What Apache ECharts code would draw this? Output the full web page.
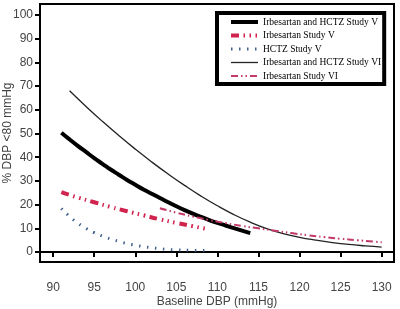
<!DOCTYPE html>
<html>
<head>
<meta charset="utf-8">
<script src="https://cdn.jsdelivr.net/npm/echarts@6/dist/echarts.min.js"></script>
<style>
  html, body { margin: 0; padding: 0; background: #fff; }
  #chart { width: 400px; height: 309px; }
</style>
</head>
<body>
<div id="chart"></div>
<script>
// tick values
var xTicks = [90, 95, 100, 105, 110, 115, 120, 125, 130];
var yTicks = [0, 10, 20, 30, 40, 50, 60, 70, 80, 90, 100];

// Irbesartan and HCTZ Study V
var combVX = [91, 92, 93, 94, 95, 96, 97, 98, 99, 100, 101, 102, 103, 104, 105, 106, 107, 108, 109, 110, 111, 112, 113, 114];
var combVY = [50.3, 47.5, 44.8, 42.2, 39.6, 37.2, 34.8, 32.6, 30.4, 28.4, 26.4, 24.6, 22.8, 21, 19.3, 17.7, 16.2, 14.8, 13.5, 12.3, 11.2, 10.1, 9, 8];

// Irbesartan Study V
var irbVX = [91, 93, 95, 97, 99, 101, 103, 105, 107, 109];
var irbVY = [25.3, 23, 21, 19, 17.2, 15.5, 13.8, 12.3, 10.9, 9.5];

// HCTZ Study V
var hctzVX = [91, 92, 93, 94, 95, 96, 97, 98, 99, 100, 101, 102, 103, 104, 105, 107, 109];
var hctzVY = [18.4, 15, 12.2, 10, 8.2, 6.7, 5.5, 4.5, 3.6, 2.9, 2.3, 1.8, 1.4, 1.1, 0.9, 0.7, 0.6];

// Irbesartan and HCTZ Study VI
var combVIX = [92, 94, 96, 98, 100, 102, 104, 106, 108, 110, 112, 114, 116, 118, 120, 122, 124, 126, 128, 130];
var combVIY = [68, 61.4, 55.1, 49.1, 43.4, 38, 32.9, 28.1, 23.6, 19.5, 15.8, 12.6, 9.9, 7.8, 6.2, 5, 4, 3.2, 2.6, 2.1];

// Irbesartan Study VI
var irbVIX = [103, 105, 107, 109, 111, 113, 115, 117, 119, 121, 123, 125, 127, 129, 130];
var irbVIY = [18.5, 16.6, 15, 13.5, 12.2, 11, 10, 9, 8, 7.1, 6.3, 5.6, 5, 4.4, 4.1];

function pairs(xs, ys) {
  return xs.map(function (x, i) { return [x, ys[i]]; });
}

// line looks, shared by the series and their legend icons
var styleCombV = { color: '#000', width: 4 };
var styleIrbV = { color: '#d0244e', width: 4, type: [8, 4.5, 1.5, 4.5, 1.5, 4.5, 1.5, 4.5] };
var styleHctzV = { color: '#3d5f8a', width: 3, type: [1.5, 6.5] };
var styleCombVI = { color: '#222', width: 1.3 };
var styleIrbVI = { color: '#c23b66', width: 2, type: [7, 3, 1.5, 3, 1.5, 3] };

var chart = echarts.init(document.getElementById('chart'), null, { renderer: 'canvas' });

var axisFont = { fontFamily: 'Liberation Sans', fontSize: 12, color: '#444' };

var option = {
  backgroundColor: '#fff',
  animation: false,
  grid: {
    left: 40, right: 6, top: 4, bottom: 47,
    outerBoundsMode: 'none',
    containLabel: false,
    show: true,
    borderColor: '#000',
    borderWidth: 2,
    backgroundColor: 'transparent'
  },
  legend: {
    orient: 'vertical',
    left: 217,
    top: 13,
    padding: [4, 3, 3, 12],
    borderColor: '#000',
    borderWidth: 4,
    backgroundColor: '#fff',
    itemWidth: 27,
    itemHeight: 8,
    itemGap: 3.5,
    itemStyle: { opacity: 0 },
    textStyle: { fontFamily: 'Liberation Serif', fontSize: 9.5, color: '#000' },
    data: [
      { name: 'Irbesartan and HCTZ Study V', lineStyle: styleCombV },
      { name: 'Irbesartan Study V', lineStyle: styleIrbV },
      { name: 'HCTZ Study V', lineStyle: styleHctzV },
      { name: 'Irbesartan and HCTZ Study VI', lineStyle: styleCombVI },
      { name: 'Irbesartan Study VI', lineStyle: styleIrbVI }
    ]
  },
  xAxis: {
    type: 'value',
    min: 88.4,
    max: 131.5,
    name: 'Baseline DBP (mmHg)',
    nameLocation: 'middle',
    nameGap: 34,
    nameMoveOverlap: false,
    nameTextStyle: axisFont,
    axisLine: { show: true, lineStyle: { color: '#000', width: 2 } },
    axisTick: { show: true, customValues: xTicks, length: 5, lineStyle: { color: '#000', width: 2 } },
    axisLabel: { customValues: xTicks, margin: 20, fontFamily: 'Liberation Sans', fontSize: 12, color: '#444' },
    splitLine: { show: false }
  },
  yAxis: {
    type: 'value',
    min: -4.2,
    max: 104.6,
    name: '% DBP <80 mmHg',
    nameLocation: 'middle',
    nameGap: 26,
    nameMoveOverlap: false,
    nameTextStyle: axisFont,
    axisLine: { show: true, lineStyle: { color: '#000', width: 2 } },
    axisTick: { show: true, customValues: yTicks, length: 5, lineStyle: { color: '#000', width: 2 } },
    axisLabel: { customValues: yTicks, margin: 7, fontFamily: 'Liberation Sans', fontSize: 12, color: '#444' },
    splitLine: { show: false }
  },
  series: [
    {
      name: 'Irbesartan and HCTZ Study V',
      type: 'line', smooth: true, symbol: 'none',
      data: pairs(combVX, combVY),
      lineStyle: styleCombV,
      itemStyle: { color: styleCombV.color }
    },
    {
      name: 'Irbesartan Study V',
      type: 'line', smooth: true, symbol: 'none',
      data: pairs(irbVX, irbVY),
      lineStyle: styleIrbV,
      itemStyle: { color: styleIrbV.color }
    },
    {
      name: 'HCTZ Study V',
      type: 'line', smooth: true, symbol: 'none',
      data: pairs(hctzVX, hctzVY),
      lineStyle: styleHctzV,
      itemStyle: { color: styleHctzV.color }
    },
    {
      name: 'Irbesartan and HCTZ Study VI',
      type: 'line', smooth: true, symbol: 'none',
      data: pairs(combVIX, combVIY),
      lineStyle: styleCombVI,
      itemStyle: { color: styleCombVI.color }
    },
    {
      name: 'Irbesartan Study VI',
      type: 'line', smooth: true, symbol: 'none',
      data: pairs(irbVIX, irbVIY),
      lineStyle: styleIrbVI,
      itemStyle: { color: styleIrbVI.color }
    }
  ]
};

chart.setOption(option);
</script>
</body>
</html>
